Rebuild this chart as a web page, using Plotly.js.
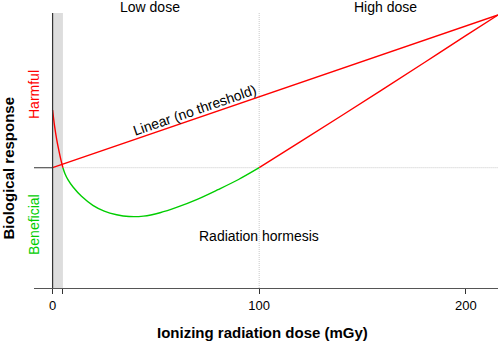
<!DOCTYPE html>
<html>
<head>
<meta charset="utf-8">
<script src="https://cdn.plot.ly/plotly-3.0.1.min.js"></script>
<style>html,body{margin:0;padding:0;background:#fff}#chart{width:500px;height:344px}</style>
</head>
<body>
<div id="chart"></div>
<script>
// Linear no-threshold model
const linearDose = [0, 215.6];
const linearResp = [0, 152.7];

// Hormesis curve, split by sign (harmful = red, beneficial = green)
const hormHarmLowDose = [0, 1, 2, 3, 4, 5];
const hormHarmLowResp = [57.7, 41, 28, 17.5, 8, 0];

const hormBenDose = [5, 6, 7.5, 10, 14, 19.5, 25, 31, 37, 44, 52, 60, 70, 80, 90, 100];
const hormBenResp = [0, -6, -12.2, -19.6, -28.6, -37.6, -43.4, -47, -48.8, -48.4, -45, -39.7, -31.6, -22, -11.8, 0];

const hormHarmHighDose = [100, 120, 140, 160, 180, 200, 215.6];
const hormHarmHighResp = [0, 26, 52.2, 78.6, 105.2, 132, 152.7];

const xTickVals = [0, 5, 100, 200];
const xTickText = ['0', '', '100', '200'];

const RED = '#FF0000', GREEN = '#00CD00';
const FONT = 'Liberation Sans, Arial, sans-serif';

const traces = [
  {x: linearDose, y: linearResp, mode: 'lines', line: {color: RED, width: 1.4}},
  {x: hormHarmLowDose, y: hormHarmLowResp, mode: 'lines', line: {color: RED, width: 1.4, shape: 'spline', smoothing: 1}},
  {x: hormBenDose, y: hormBenResp, mode: 'lines', line: {color: GREEN, width: 1.4, shape: 'spline', smoothing: 1}},
  {x: hormHarmHighDose, y: hormHarmHighResp, mode: 'lines', line: {color: RED, width: 1.4, shape: 'spline', smoothing: 1}}
];

const layout = {
  width: 500, height: 344,
  margin: {l: 34, r: 2, t: 13, b: 56},
  showlegend: false,
  paper_bgcolor: '#fff', plot_bgcolor: '#fff',
  font: {family: FONT, color: '#000'},
  xaxis: {
    range: [-9, 215.6], showgrid: false, zeroline: false,
    showline: true, linecolor: '#555', linewidth: 1.2,
    ticks: 'outside', ticklen: 5, tickcolor: '#333', tickwidth: 1,
    tickvals: xTickVals, ticktext: xTickText,
    tickfont: {size: 13, family: FONT, color: '#000'}
  },
  yaxis: {
    range: [-120.3, 154.7], showgrid: false, zeroline: false,
    showline: false, showticklabels: false, ticks: ''
  },
  shapes: [
    {type: 'rect', xref: 'x', yref: 'paper', x0: 0, x1: 5, y0: 0, y1: 1, fillcolor: '#DDDDDD', line: {width: 0}, layer: 'below'},
    {type: 'line', xref: 'x', yref: 'paper', x0: 100, x1: 100, y0: 0, y1: 1, line: {color: '#C8C8C8', width: 1, dash: '1px,1px'}, layer: 'below'},
    {type: 'line', xref: 'x', yref: 'y', x0: 0, x1: 215.6, y0: 0, y1: 0, line: {color: '#C8C8C8', width: 1, dash: '1px,1px'}, layer: 'below'},
    {type: 'line', xref: 'x', yref: 'y', x0: -9, x1: 0, y0: 0, y1: 0, line: {color: '#555', width: 1.2}},
    {type: 'line', xref: 'x', yref: 'paper', x0: 0, x1: 0, y0: 0, y1: 1, line: {color: '#333', width: 1.2}}
  ],
  annotations: [
    {text: 'Low dose', xref: 'x', yref: 'paper', x: 47, y: 1.022, showarrow: false, xanchor: 'center', yanchor: 'middle', font: {size: 14}},
    {text: 'High dose', xref: 'x', yref: 'paper', x: 161, y: 1.022, showarrow: false, xanchor: 'center', yanchor: 'middle', font: {size: 14}},
    {text: 'Linear (no threshold)', xref: 'x', yref: 'y', x: 68.9, y: 57.7, showarrow: false, textangle: -19, font: {size: 14}},
    {text: 'Radiation hormesis', xref: 'x', yref: 'y', x: 100, y: -68, showarrow: false, font: {size: 14}},
    {text: 'Harmful', xref: 'paper', yref: 'y', x: 0, y: 72.7, showarrow: false, textangle: -90, font: {size: 14, color: RED}, xanchor: 'center', yanchor: 'middle'},
    {text: 'Beneficial', xref: 'paper', yref: 'y', x: 0, y: -57.3, showarrow: false, textangle: -90, font: {size: 14, color: GREEN}, xanchor: 'center', yanchor: 'middle'},
    {text: 'Biological response', xref: 'paper', yref: 'y', x: 0, y: -0.8, xshift: -26, showarrow: false, textangle: -90, font: {size: 15, weight: 'bold'}, xanchor: 'center', yanchor: 'middle'},
    {text: 'Ionizing radiation dose (mGy)', xref: 'paper', yref: 'paper', x: 0.4925, y: -0.1636, showarrow: false, font: {size: 15, weight: 'bold'}, xanchor: 'center', yanchor: 'middle'}
  ]
};

Plotly.newPlot('chart', traces, layout, {staticPlot: true, displayModeBar: false});
</script>
</body>
</html>
